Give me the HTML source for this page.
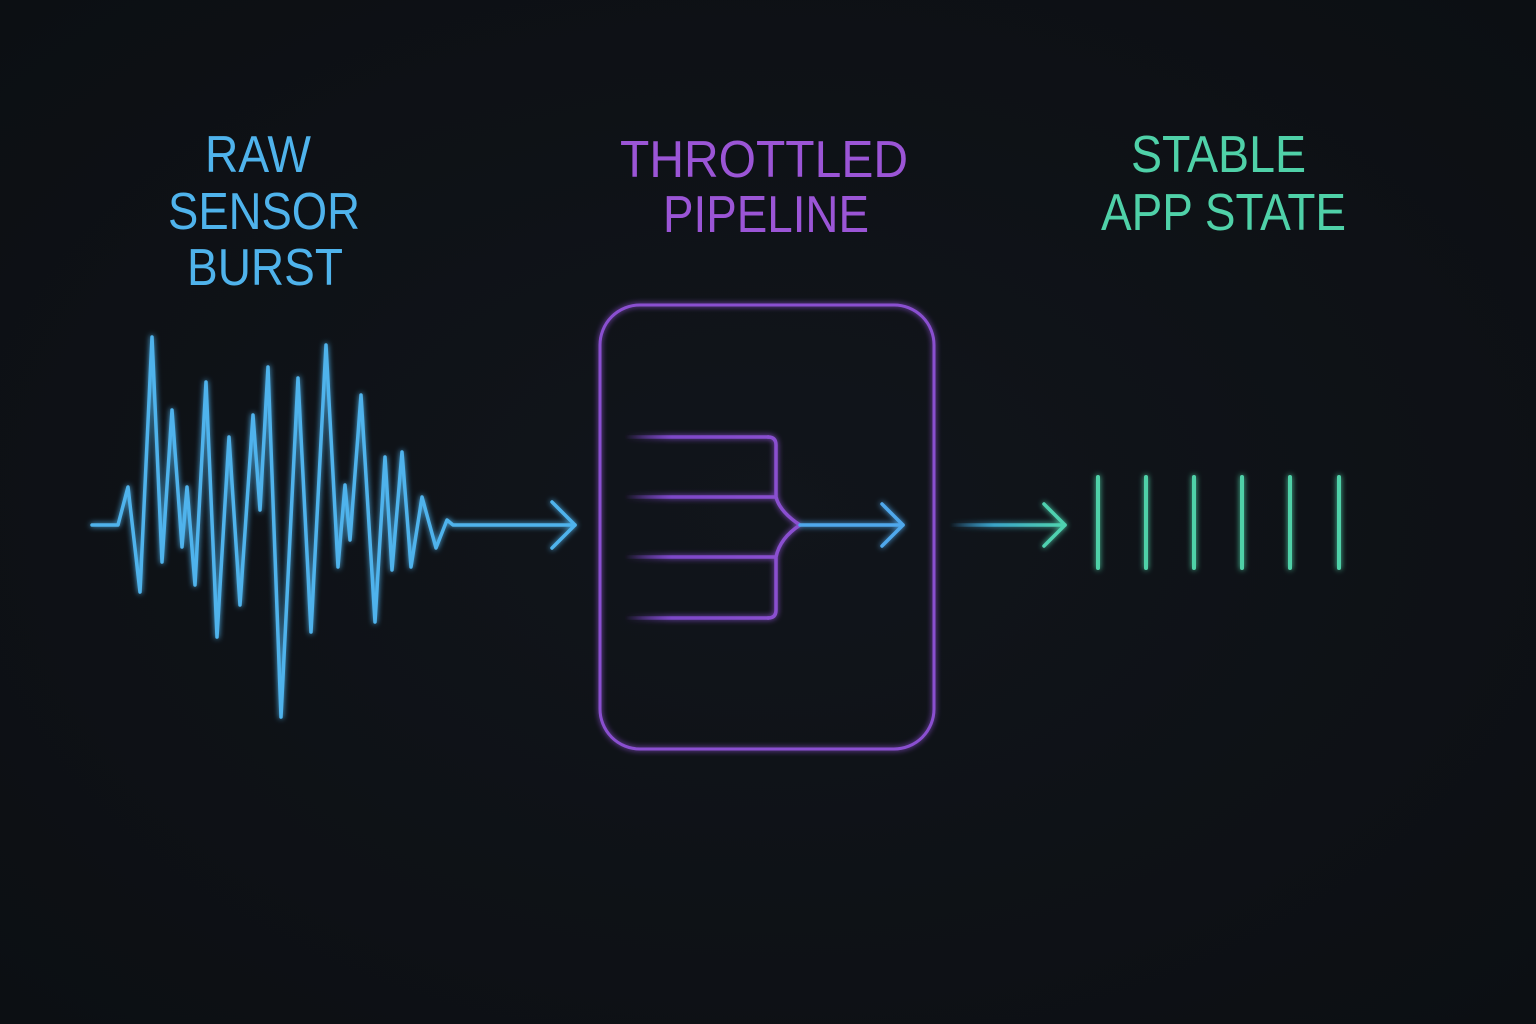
<!DOCTYPE html>
<html><head><meta charset="utf-8"><style>
html,body{margin:0;padding:0;background:#0e1116;}
svg{display:block}
text{font-family:"Liberation Sans",sans-serif;font-size:52px;}
</style></head><body>
<svg width="1536" height="1024" viewBox="0 0 1536 1024" xmlns="http://www.w3.org/2000/svg">
<defs>
<radialGradient id="bg" cx="50%" cy="50%" r="70%"><stop offset="0" stop-color="#11151b"/><stop offset="1" stop-color="#0c0f13"/></radialGradient>
<linearGradient id="fadeP" x1="625" x2="780" gradientUnits="userSpaceOnUse"><stop offset="0" stop-color="#7a45c8" stop-opacity="0"/><stop offset="0.3" stop-color="#7d48c8"/><stop offset="1" stop-color="#8a50d0"/></linearGradient>
<linearGradient id="fadeB" x1="950" x2="1060" gradientUnits="userSpaceOnUse"><stop offset="0" stop-color="#3a9ad8" stop-opacity="0"/><stop offset="0.4" stop-color="#3aa4c8"/><stop offset="1" stop-color="#4fd1b0"/></linearGradient>
<filter id="glow" x="-20%" y="-20%" width="140%" height="140%"><feGaussianBlur stdDeviation="3" result="b"/><feMerge><feMergeNode in="b"/><feMergeNode in="SourceGraphic"/></feMerge></filter>
</defs>
<rect width="1536" height="1024" fill="url(#bg)"/>

<g fill="#4fb3ec">
<text x="205" y="172" textLength="106" lengthAdjust="spacingAndGlyphs">RAW</text>
<text x="168" y="229" textLength="192" lengthAdjust="spacingAndGlyphs">SENSOR</text>
<text x="187" y="285" textLength="156" lengthAdjust="spacingAndGlyphs">BURST</text>
</g>
<g fill="#9b55d6">
<text x="620" y="177" textLength="288" lengthAdjust="spacingAndGlyphs">THROTTLED</text>
<text x="663" y="232" textLength="206" lengthAdjust="spacingAndGlyphs">PIPELINE</text>
</g>
<g fill="#4fd1a8">
<text x="1131" y="172" textLength="175" lengthAdjust="spacingAndGlyphs">STABLE</text>
<text x="1101" y="230" textLength="245" lengthAdjust="spacingAndGlyphs">APP STATE</text>
</g>

<g filter="url(#glow)" fill="none" stroke-linecap="round" stroke-linejoin="round">
<polyline stroke="#4fb3ec" stroke-width="3.5" points="92,525 118,525 128,487 140,592 152,337 162,562 172,410 182,547 187,487 195,585 206,382 217,637 229,437 240,605 253,415 260,510 268,367 281,717 298,378 311,632 326,345 338,567 345,485 350,540 361,395 375,622 385,457 392,570 402,452 411,567 422,497 436,548 447,520 453,525 575,525"/>
<polyline stroke="#4fb3ec" stroke-width="3.5" points="552,502 575,525 552,548"/>

<rect x="600" y="305" width="334" height="444" rx="40" stroke="#8a4fd0" stroke-width="3"/>

<g stroke="url(#fadeP)" stroke-width="3.5" stroke-linecap="butt">
<line x1="625" y1="437" x2="769" y2="437"/>
<line x1="625" y1="497" x2="777" y2="497"/>
<line x1="625" y1="557" x2="777" y2="557"/>
<line x1="625" y1="618" x2="769" y2="618"/>
</g>
<path stroke="#8a50d0" stroke-width="3.5" d="M768,437 Q776,437 776,445 L776,497 Q780,512 800,525 Q780,538 776,557 L776,610 Q776,618 768,618"/>
<line stroke="#4fa8ec" stroke-width="3.5" x1="800" y1="525" x2="903" y2="525"/>
<polyline stroke="#4fa8ec" stroke-width="3.5" points="882,504 903,525 882,546"/>

<line stroke="url(#fadeB)" stroke-width="3.5" x1="950" y1="525" x2="1065" y2="525"/>
<polyline stroke="#4fd1b0" stroke-width="3.5" points="1044,504 1065,525 1044,546"/>

<g stroke="#4fd1a8" stroke-width="4">
<line x1="1098" y1="477" x2="1098" y2="568"/>
<line x1="1146" y1="477" x2="1146" y2="568"/>
<line x1="1194" y1="477" x2="1194" y2="568"/>
<line x1="1242" y1="477" x2="1242" y2="568"/>
<line x1="1290" y1="477" x2="1290" y2="568"/>
<line x1="1339" y1="477" x2="1339" y2="568"/>
</g>
</g>
</svg>
</body></html>
